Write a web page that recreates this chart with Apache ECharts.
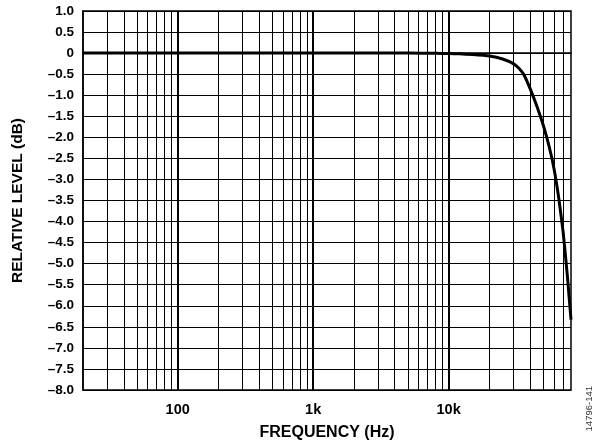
<!DOCTYPE html>
<html>
<head>
<meta charset="utf-8">
<script src="https://cdn.jsdelivr.net/npm/echarts@6/dist/echarts.min.js"></script>
<style>
html,body{margin:0;padding:0;background:#fff;}
#chart{width:600px;height:446px;}
</style>
</head>
<body>
<div id="chart"></div>
<script>
// Frequency (Hz) and relative level (dB)
var freqs  = [20, 50, 100, 200, 500, 1000, 2000, 5000, 8000, 10000, 12000, 15000, 20000, 25000, 30000, 33000, 36000, 40000, 45000, 50000, 55000, 60000, 65000, 70000, 75000, 80000];
var levels = [0, 0, 0, 0, 0, 0, 0, 0, -0.005, -0.01, -0.018, -0.035, -0.07, -0.14, -0.25, -0.36, -0.52, -0.85, -1.28, -1.72, -2.2, -2.75, -3.45, -4.25, -5.25, -6.33];

// Axis settings
var xMin = 20, xMax = 80000;
var yMin = -8, yMax = 1, yStep = 0.5;
var xTickLabels = {"100": "100", "1000": "1k", "10000": "10k"};
var decadeLines = [100, 1000, 10000];
var minorMultipliers = [2, 3, 4, 5, 6, 7, 8, 9];
var decades = [10, 100, 1000, 10000];

var minorLines = [];
decades.forEach(function (d) {
  minorMultipliers.forEach(function (m) {
    var f = d * m;
    if (f > xMin && f < xMax) minorLines.push(f);
  });
});

var chart = echarts.init(document.getElementById('chart'), null, {renderer: 'canvas'});

var font = 'Liberation Sans, Arial, Helvetica, sans-serif';

var markData = [];
minorLines.forEach(function (f) {
  markData.push({xAxis: f, lineStyle: {color: '#000', width: 1, type: 'solid'}});
});
decadeLines.forEach(function (f) {
  markData.push({xAxis: f, lineStyle: {color: '#000', width: 2, type: 'solid'}});
});

chart.setOption({
  animation: false,
  backgroundColor: '#fff',
  grid: {left: 83, right: 29, top: 11, bottom: 56, show: true, borderColor: '#000', borderWidth: 1.5, containLabel: false},
  xAxis: {
    type: 'log',
    logBase: 10,
    min: xMin,
    max: xMax,
    name: 'FREQUENCY (Hz)',
    nameLocation: 'middle',
    nameGap: 35,
    nameTextStyle: {fontFamily: font, fontWeight: 'bold', fontSize: 16, color: '#000'},
    axisLine: {show: true, lineStyle: {color: '#000', width: 1.5}},
    axisTick: {show: false},
    splitLine: {show: false},
    minorTick: {show: false},
    axisLabel: {
      showMinLabel: false,
      showMaxLabel: false,
      margin: 12,
      fontFamily: font, fontWeight: 'bold', fontSize: 14.5, color: '#000',
      formatter: function (v) {
        var e = Math.log10(v);
        if (Math.abs(e - Math.round(e)) > 1e-6) return '';
        var key = String(Math.round(Math.pow(10, Math.round(e))));
        return xTickLabels[key] || '';
      }
    }
  },
  yAxis: {
    type: 'value',
    min: yMin,
    max: yMax,
    interval: yStep,
    name: 'RELATIVE LEVEL (dB)',
    nameLocation: 'middle',
    nameGap: 57,
    nameTextStyle: {fontFamily: font, fontWeight: 'bold', fontSize: 15.5, color: '#000'},
    axisLine: {show: true, lineStyle: {color: '#000', width: 1.5}},
    axisTick: {show: false},
    splitLine: {show: true, lineStyle: {color: '#000', width: 1}},
    axisLabel: {
      margin: 9,
      fontFamily: font, fontWeight: 'bold', fontSize: 13.5, color: '#000',
      formatter: function (v) {
        var r = Math.round(v * 10) / 10;
        if (r === 0) return '0';
        if (r > 0) return r.toFixed(1);
        return '\u2013' + (-r).toFixed(1);
      }
    }
  },
  graphic: [{
    type: 'text',
    left: 584,
    top: 386,
    rotation: Math.PI / 2,
    style: {text: '14796-141', fontFamily: font, fontSize: 9.5, fill: '#333'}
  }],
  series: [{
    type: 'line',
    data: freqs.map(function (f, i) { return [f, levels[i]]; }),
    showSymbol: false,
    symbol: 'none',
    smooth: 0.15,
    lineStyle: {color: '#000', width: 3},
    z: 5,
    markLine: {
      silent: true,
      symbol: ['none', 'none'],
      label: {show: false},
      animation: false,
      z: 2,
      data: markData
    }
  }]
});
</script>
</body>
</html>
